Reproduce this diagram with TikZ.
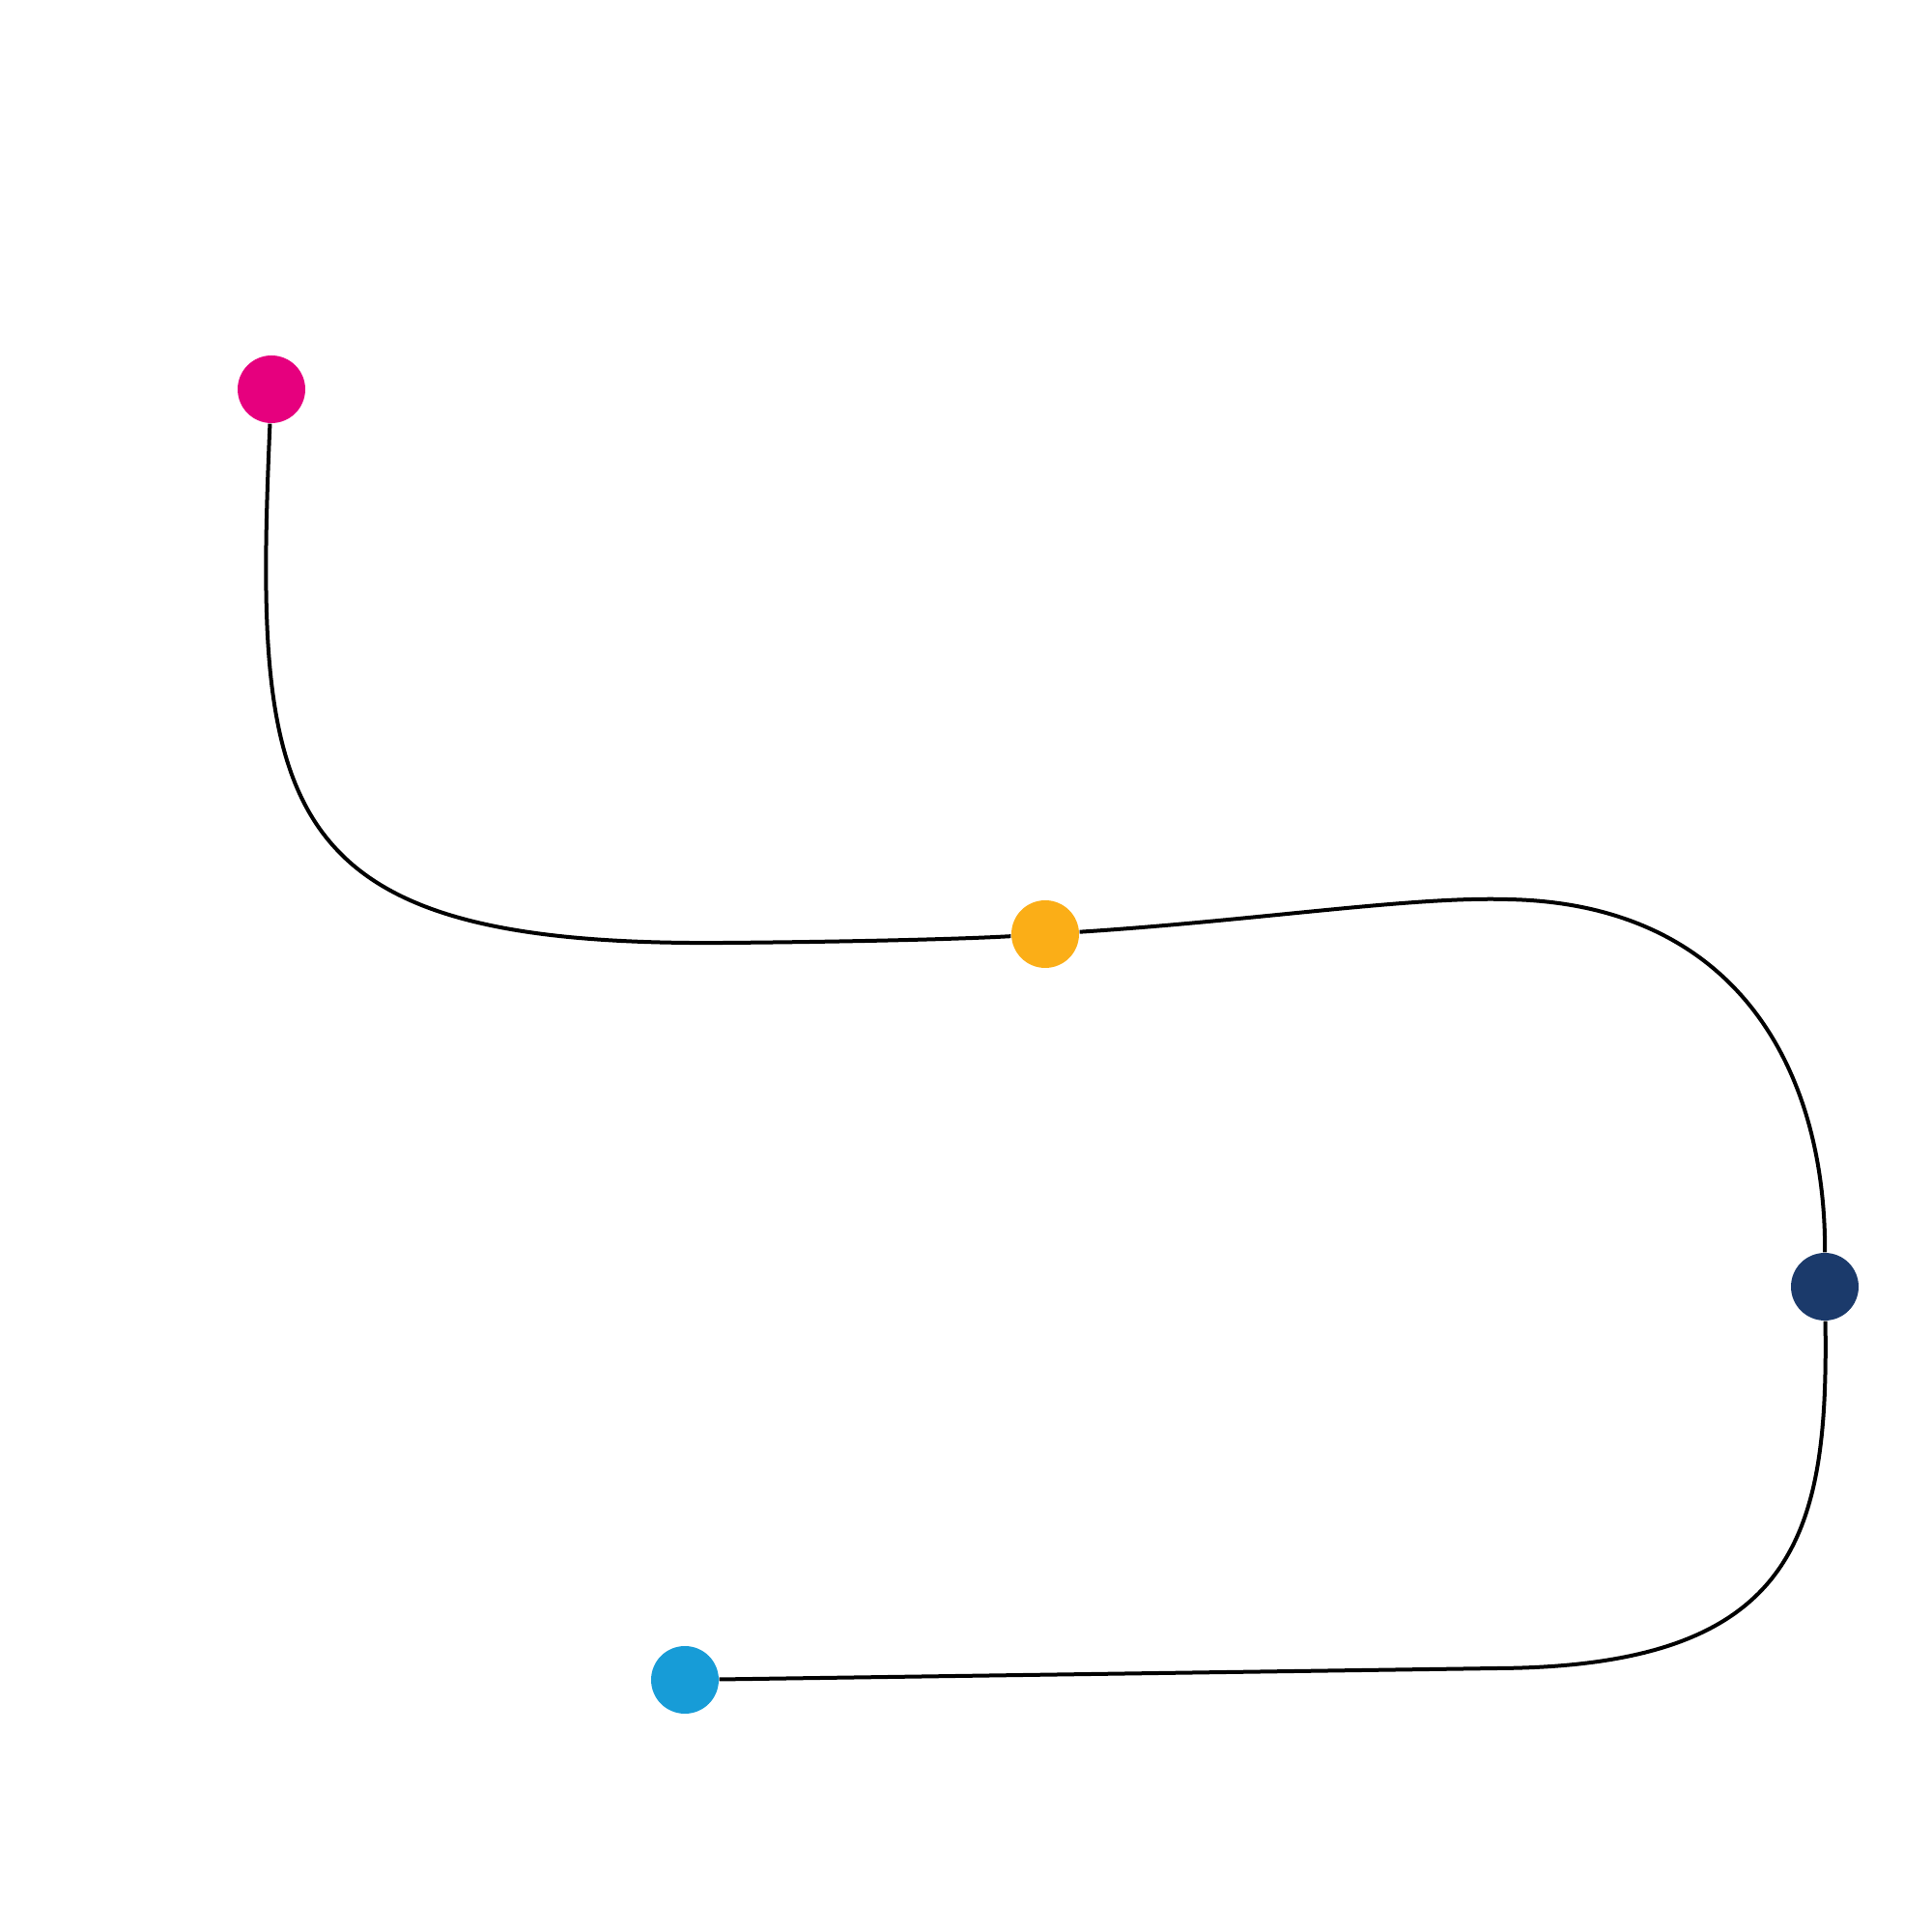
\documentclass[tikz,border=0pt]{standalone}
\usepackage{tikz}
\definecolor{pinkColor}{HTML}{E6007E}
\definecolor{orangeColor}{HTML}{FBAE17}
\definecolor{navyColor}{HTML}{1B3A6B}
\definecolor{blueColor}{HTML}{179CD7}
\tikzstyle{dotStyle} = [circle, inner sep=0pt, minimum size=.7cm, draw=none]
\tikzstyle{trailStyle} = [color=black, line width=.04cm]
\newcommand{\stopDot}[4]{\node [dotStyle, fill=#4] (#1) at (#2,#3) {};}

\begin{document}
\begin{tikzpicture}
        \useasboundingbox (0,0) rectangle (20,20);
        \stopDot{pinkDot}{2.81}{15.97}{pinkColor}
        \stopDot{orangeDot}{10.82}{10.33}{orangeColor}
        \stopDot{navyDot}{18.89}{6.68}{navyColor}
        \stopDot{blueDot}{7.09}{2.61}{blueColor}

        \draw [trailStyle] (pinkDot) .. controls (2.62,11.6) and (2.8,10.2) .. (7.5,10.24)
          .. controls (8.8,10.25) and (10.0,10.28) .. (orangeDot);
        \draw [trailStyle] (orangeDot) .. controls (13.0,10.47) and (14.6,10.72) .. (15.6,10.69)
          .. controls (18.0,10.65) and (18.9,8.9) .. (navyDot);
        \draw [trailStyle] (navyDot) .. controls (18.93,4.1) and (18.6,2.75) .. (15.5,2.73)
          -- (blueDot);
      \end{tikzpicture}
\end{document}
